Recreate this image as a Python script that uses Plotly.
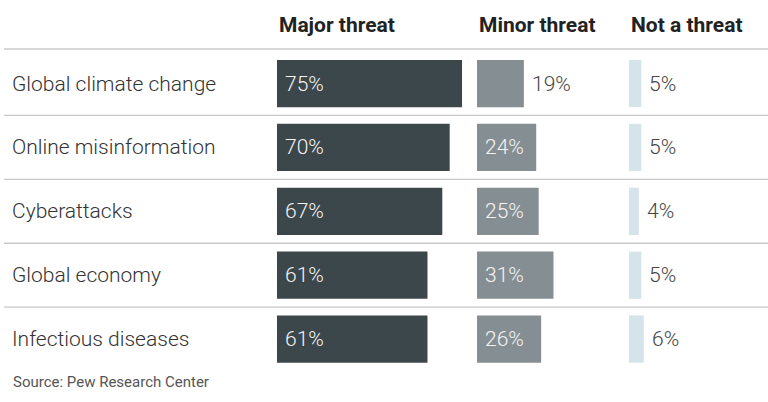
import plotly.graph_objects as go

categories = ["Global climate change", "Online misinformation", "Cyberattacks",
              "Global economy", "Infectious diseases"]
major = [75, 70, 67, 61, 61]
minor = [19, 24, 25, 31, 26]
not_threat = [5, 5, 4, 5, 6]
headers = ["Major threat", "Minor threat", "Not a threat"]
source = "Source: Pew Research Center"

W, H = 768, 402
PXU = 2.467  # pixels per percentage point
FONT = "Roboto"
cols = [(277, 477), (477, 629), (629, 768)]
colors = ["#3c474b", "#858f93", "#d5e3ea"]
series = [major, minor, not_threat]

fig = go.Figure()
layout_axes = {}
annotations = []
for i, (vals, (x0, x1), col, head) in enumerate(zip(series, cols, colors, headers)):
    xa = "x" if i == 0 else f"x{i+1}"
    key = "xaxis" if i == 0 else f"xaxis{i+1}"
    fig.add_trace(go.Bar(
        x=vals, y=categories, orientation="h", xaxis=xa, yaxis="y",
        marker=dict(color=col, line=dict(width=0)), width=0.74,
        hoverinfo="skip", showlegend=False))
    layout_axes[key] = dict(domain=[x0 / W, x1 / W], range=[0, (x1 - x0) / PXU],
                            visible=False, anchor="y", fixedrange=True)
    for v, c in zip(vals, categories):
        inside = v >= 20
        annotations.append(dict(
            x=0 if inside else v, y=c, xref=xa, yref="y", text=f"{v}%",
            xanchor="left", yanchor="middle", xshift=6,
            showarrow=False,
            font=dict(family=FONT, size=21, weight=300,
                      color="#f4f4f4" if inside else "#444444")))
    annotations.append(dict(
        x=x0 / W, y=1 - 25 / H, xref="paper", yref="paper", text=f"<b>{head}</b>",
        xanchor="left", yanchor="middle", showarrow=False,
        font=dict(family=FONT, size=21, color="#222222")))

for c in categories:
    annotations.append(dict(
        x=10 / W, y=c, xref="paper", yref="y", text=c, xanchor="left",
        yanchor="middle", showarrow=False,
        font=dict(family=FONT, size=21, weight=300, color="#333333")))

annotations.append(dict(
    x=11 / W, y=1 - 382 / H, xref="paper", yref="paper", text=source,
    xanchor="left", yanchor="middle", showarrow=False,
    font=dict(family=FONT, size=15, color="#555555")))

shapes = []
for yv in [-0.54] + [i + 0.5 for i in range(len(categories) - 1)]:
    shapes.append(dict(type="line", xref="paper", yref="y", x0=4 / W, x1=1,
                       y0=yv, y1=yv, line=dict(color="#c8c8c8", width=1.3)))

fig.update_layout(
    width=W, height=H, margin=dict(l=0, r=0, t=0, b=0),
    paper_bgcolor="white", plot_bgcolor="white",
    yaxis=dict(type="category", categoryarray=categories, categoryorder="array",
               range=[4.984, -1.307], visible=False, fixedrange=True),
    annotations=annotations, shapes=shapes, bargap=0.26,
    **layout_axes)

fig.write_html("out.html", config={"displayModeBar": False},
               post_script="document.body.style.margin='0';")
